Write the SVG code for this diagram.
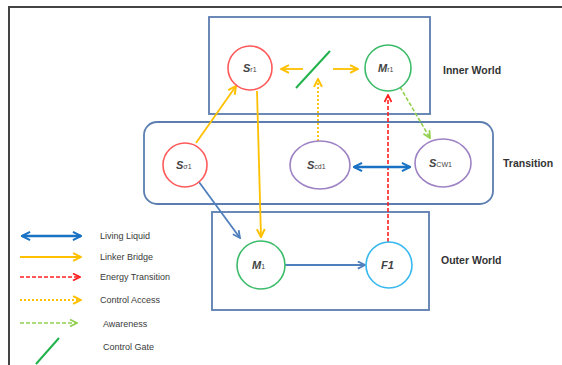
<svg xmlns="http://www.w3.org/2000/svg" width="562" height="365" viewBox="0 0 562 365">
<defs>
<style>
.box{fill:none;stroke:#5b7db0;stroke-width:1.8}
.lbl{font-family:"Liberation Sans",Arial,sans-serif;font-weight:bold;font-size:10.5px;fill:#333}
.leg{font-family:"Liberation Sans",Arial,sans-serif;font-size:9px;fill:#3a3a3a}
.nt{font-family:"Liberation Sans",Arial,sans-serif;font-weight:bold;font-style:italic;font-size:11px;fill:#444}
.sub{font-size:7px;font-style:normal;font-weight:normal}
.liq{stroke:#1a72c4;stroke-width:2.4;fill:none}
.link{stroke:#ffc000;stroke-width:1.8;fill:none}
.energy{stroke:#ff2020;stroke-width:1.6;fill:none;stroke-dasharray:4 2}
.ctrl{stroke:#ffc000;stroke-width:1.8;fill:none;stroke-dasharray:2 2}
.aware{stroke:#92d050;stroke-width:1.6;fill:none;stroke-dasharray:4 2}
.steel{stroke:#4f7fbd;stroke-width:1.8;fill:none}
.gate{stroke:#22b24c;stroke-width:2}
</style>
<marker id="mY" viewBox="0 0 10 10" refX="9" refY="5" markerWidth="5.5" markerHeight="5.5" orient="auto-start-reverse" markerUnits="strokeWidth"><path d="M1,1 L9,5 L1,9" fill="none" stroke="#ffc000" stroke-width="2"/></marker>
<marker id="mR" viewBox="0 0 10 10" refX="9" refY="5" markerWidth="5.5" markerHeight="5.5" orient="auto" markerUnits="strokeWidth"><path d="M1,1 L9,5 L1,9" fill="none" stroke="#ff2020" stroke-width="2"/></marker>
<marker id="mG" viewBox="0 0 10 10" refX="9" refY="5" markerWidth="5.5" markerHeight="5.5" orient="auto" markerUnits="strokeWidth"><path d="M1,1 L9,5 L1,9" fill="none" stroke="#92d050" stroke-width="2"/></marker>
<marker id="mB" viewBox="0 0 10 10" refX="9" refY="5" markerWidth="4.2" markerHeight="4.2" orient="auto-start-reverse" markerUnits="strokeWidth"><path d="M1,1 L9,5 L1,9" fill="none" stroke="#1a72c4" stroke-width="2"/></marker>
<marker id="mS" viewBox="0 0 10 10" refX="9" refY="5" markerWidth="5" markerHeight="5" orient="auto" markerUnits="strokeWidth"><path d="M1,1 L9,5 L1,9" fill="none" stroke="#4f7fbd" stroke-width="2"/></marker>
</defs>
<rect width="562" height="365" fill="#fff"/>
<path d="M9,365 V7 H562" fill="none" stroke="#444" stroke-width="2"/>

<g id="inner-world">
<rect class="box" x="209" y="17" width="221" height="97"/>
<text class="lbl" x="443" y="74">Inner World</text>
</g>
<g id="transition">
<rect class="box" x="144" y="122" width="349" height="82" rx="13"/>
<text class="lbl" x="503" y="167">Transition</text>
</g>
<g id="outer-world">
<rect class="box" x="212" y="212" width="217" height="98"/>
<text class="lbl" x="441" y="264">Outer World</text>
</g>

<g id="connectors">
<line class="link" x1="303" y1="69" x2="281" y2="69" marker-end="url(#mY)"/>
<line class="link" x1="333" y1="69" x2="358" y2="69" marker-end="url(#mY)"/>
<line class="link" x1="196" y1="143" x2="236" y2="86" marker-end="url(#mY)"/>
<line class="link" x1="257" y1="91" x2="261" y2="237" marker-end="url(#mY)"/>
<line class="ctrl" x1="318" y1="141" x2="318" y2="79" marker-end="url(#mY)"/>
<line class="energy" x1="388" y1="242" x2="388" y2="95" marker-end="url(#mR)"/>
<line class="aware" x1="400" y1="87" x2="430" y2="138" marker-end="url(#mG)"/>
<line class="liq" x1="354" y1="167" x2="410" y2="167" marker-start="url(#mB)" marker-end="url(#mB)"/>
<line class="steel" x1="199" y1="182" x2="240" y2="238" marker-end="url(#mS)"/>
<line class="steel" x1="285" y1="265" x2="365" y2="265" marker-end="url(#mS)"/>
<line class="gate" x1="296" y1="88" x2="330" y2="51"/>
</g>

<g id="node-Sr1">
<circle cx="250" cy="68" r="22" fill="#fff" stroke="#ff5a5a" stroke-width="1.6"/>
<text class="nt" x="243" y="72">S<tspan class="sub">r1</tspan></text>
</g>
<g id="node-Mr1">
<circle cx="388" cy="68" r="23" fill="#fff" stroke="#3cbc6a" stroke-width="1.6"/>
<text class="nt" x="378" y="72">M<tspan class="sub">r1</tspan></text>
</g>
<g id="node-Sa1">
<circle cx="185" cy="165" r="22" fill="#fff" stroke="#ff5a5a" stroke-width="1.6"/>
<text class="nt" x="176" y="169">S<tspan class="sub">σ1</tspan></text>
</g>
<g id="node-Scd1">
<ellipse cx="320" cy="165" rx="30" ry="24" fill="#fff" stroke="#9d82c4" stroke-width="1.6"/>
<text class="nt" x="307" y="169">S<tspan class="sub">cd1</tspan></text>
</g>
<g id="node-Scw1">
<ellipse cx="443" cy="163" rx="28" ry="24" fill="#fff" stroke="#9d82c4" stroke-width="1.6"/>
<text class="nt" x="429" y="167">S<tspan class="sub">CW1</tspan></text>
</g>
<g id="node-M1">
<circle cx="261" cy="265" r="24" fill="#fff" stroke="#3cbc6a" stroke-width="1.6"/>
<text class="nt" x="252" y="269">M<tspan class="sub">1</tspan></text>
</g>
<g id="node-F1">
<circle cx="389" cy="265" r="23" fill="#fff" stroke="#36b8ef" stroke-width="1.6"/>
<text class="nt" x="381" y="269">F1</text>
</g>

<g id="legend">
<line class="liq" x1="22" y1="236" x2="81" y2="236" marker-start="url(#mB)" marker-end="url(#mB)"/>
<text class="leg" x="100" y="239">Living Liquid</text>
<line class="link" x1="20" y1="257" x2="81" y2="257" marker-end="url(#mY)"/>
<text class="leg" x="100" y="260">Linker Bridge</text>
<line class="energy" x1="20" y1="277" x2="80" y2="277" marker-end="url(#mR)"/>
<text class="leg" x="100" y="280">Energy Transition</text>
<line class="ctrl" x1="20" y1="300" x2="81" y2="300" marker-end="url(#mY)"/>
<text class="leg" x="100" y="303">Control Access</text>
<line class="aware" x1="20" y1="323" x2="77" y2="323" marker-end="url(#mG)"/>
<text class="leg" x="103" y="327">Awareness</text>
<line class="gate" x1="59" y1="338" x2="36" y2="364"/>
<text class="leg" x="103" y="350">Control Gate</text>
</g>
</svg>
